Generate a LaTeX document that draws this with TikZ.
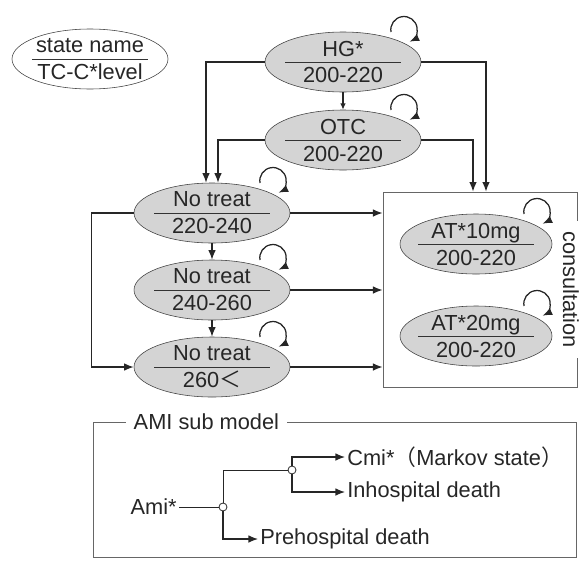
\documentclass[tikz,border=0pt]{standalone}
\usepackage{fontspec}
\setmainfont{Liberation Sans}
\newfontfamily\jp{Noto Sans CJK JP}
\usetikzlibrary{shapes.geometric,arrows.meta}

\begin{document}
\begin{tikzpicture}[font=\fontsize{15.5}{19.2}\selectfont, text=black!85]
	\tikzstyle{etat}=[ellipse, draw=black!75, fill=black!17, minimum width=3.9cm, minimum height=1.5cm, inner sep=0pt, align=center, path picture={\draw[black!80, line width=0.7pt] ([xshift=-1.45cm]path picture bounding box.center) -- ([xshift=1.45cm]path picture bounding box.center);}]
	\tikzstyle{etat_blanc}=[etat, fill=white]
	\tikzstyle{fleche}=[-{Latex[length=2.4mm,width=1.9mm]}, line width=0.9pt, draw=black!85]
	\tikzstyle{ligne}=[line width=0.7pt, draw=black!85]
	\tikzstyle{cadre}=[draw=black!60, line width=0.7pt, inner sep=0pt]
	\tikzstyle{noeud}=[circle, draw=black!80, fill=white, inner sep=0pt, minimum size=0.2cm, line width=0.6pt]
	\useasboundingbox (0,0) rectangle (14.5,-14);
	% cadre consultation
	\node[cadre, minimum width=4.85cm, minimum height=4.875cm] (consult) at (12,-7.24) {};
	\node[rotate=-90, anchor=base, fill=white, inner xsep=0.25cm, inner ysep=0.08cm] (consultlbl) at (14.08,-7.24) {consultation};
	% etats
	\node[etat_blanc] (legende) at (2.25,-1.475) {state name\\TC-C*level};
	\node[etat] (hg) at (8.575,-1.55) {HG*\\200-220};
	\node[etat] (otc) at (8.575,-3.5) {OTC\\200-220};
	\node[etat] (nt1) at (5.3,-5.325) {No treat\\220-240};
	\node[etat] (nt2) at (5.3,-7.25) {No treat\\240-260};
	\node[etat] (nt3) at (5.3,-9.175) {No treat\\260{\jp ＜}};
	\node[etat, minimum width=3.8cm] (at10) at (11.9,-6.1) {AT*10mg\\200-220};
	\node[etat, minimum width=3.8cm] (at20) at (11.9,-8.4) {AT*20mg\\200-220};
	% boucles
	\foreach \n in {hg,otc,nt1,nt2,nt3,at10,at20}
		\draw[fleche] ([shift={(1.2,0.75)}]\n.center) arc[start angle=190, end angle=-65, radius=0.33];
	% transitions
	\draw[fleche] (hg.west) -| ([xshift=-0.15cm]nt1.north);
	\draw[fleche] (otc.west) -| ([xshift=0.15cm]nt1.north);
	\draw[fleche] (hg.east) -| ([xshift=0.15cm]consult.north);
	\draw[fleche] (otc.east) -| ([xshift=-0.175cm]consult.north);
	\draw[fleche, -{Latex[length=1.6mm,width=1.4mm]}] (hg) -- (otc);
	\draw[fleche] (nt1) -- (nt2);
	\draw[fleche] (nt2) -- (nt3);
	\draw[fleche] (nt1.west) -- ++(-1.05,0) |- (nt3.west);
	\draw[fleche] (nt1.east) -- (consult.west |- nt1.east);
	\draw[fleche] (nt2.east) -- (consult.west |- nt2.east);
	\draw[fleche] (nt3.east) -- (consult.west |- nt3.east);
	% sous-modele AMI
	\node[cadre, minimum width=12.075cm, minimum height=3.375cm] (ami_cadre) at (8.3625,-12.2375) {};
	\node[fill=white, inner xsep=0.2cm, inner ysep=0.05cm] (ami_titre) at (5.16,-10.55) {AMI sub model};
	\node[anchor=east, inner sep=0.05cm] (ami) at (4.475,-12.675) {Ami*};
	\node[noeud] (s1) at (5.575,-12.675) {};
	\node[noeud] (s2) at (7.3,-11.75) {};
	\node[anchor=west, inner sep=0.05cm] (cmi) at (8.625,-11.425) {Cmi*{\jp （}Markov state{\jp ）}};
	\node[anchor=west, inner sep=0.05cm] (inh) at (8.625,-12.3) {Inhospital death};
	\node[anchor=west, inner sep=0.05cm] (pre) at (6.45,-13.475) {Prehospital death};
	\draw[ligne] (ami) -- (s1);
	\draw[ligne] (s1) |- (s2);
	\draw[fleche] (s1) |- (pre.west);
	\draw[fleche] (s2) |- (cmi.west);
	\draw[fleche] (s2) |- (inh.west);
\end{tikzpicture}
\end{document}
